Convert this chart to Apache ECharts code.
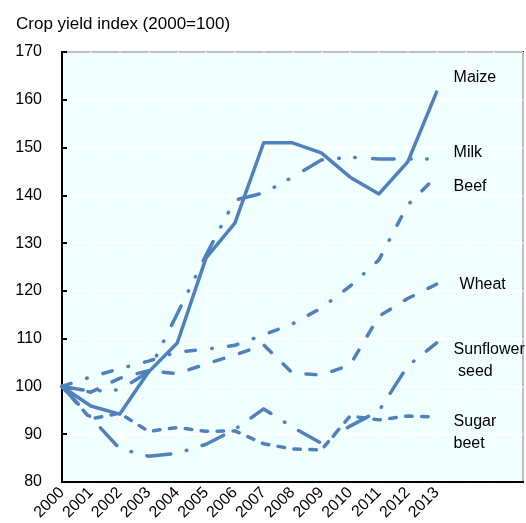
<!DOCTYPE html>
<html>
<head>
<meta charset="utf-8">
<script src="https://cdn.jsdelivr.net/npm/echarts@6/dist/echarts.min.js"></script>
<style>
  html, body { margin: 0; padding: 0; background: #fff; }
  #chart { width: 526px; height: 523px; }
</style>
</head>
<body>
<div id="chart"></div>
<script>
// 年份（右侧多留三格空白）
const years = ['2000', '2001', '2002', '2003', '2004', '2005', '2006', '2007',
  '2008', '2009', '2010', '2011', '2012', '2013', '2014', '2015', '2016'];
const lastLabelYear = 2013;

// 各作物指数 (2000=100)
const maize = [100, 95.9, 94.2, 103, 109.1, 126.9, 134.2, 151, 151, 148.9, 143.8, 140.3, 147, 161.6];
const milk = [100, 99, 99.3, 103, 115.2, 127.5, 139, 140.5, 143.8, 147.4, 148, 147.6, 147.6, 147.6];
const beef = [100, 102, 103.7, 105.3, 107.2, 107.8, 108.6, 110.8, 113.1, 116.4, 121, 126.5, 138, 144];
const wheat = [100, 98.8, 101.7, 103.3, 102.7, 104.7, 106.6, 108.7, 102.8, 102.4, 104.5, 114.7, 118.4, 121.4];
const sunflower = [100, 93.5, 87, 85.4, 86, 87.9, 91, 95.3, 91.5, 88.1, 91.7, 94.9, 104.3, 109.1];
const sugarBeet = [100, 93.2, 94.4, 90.6, 91.4, 90.6, 90.7, 88, 86.9, 86.7, 93.8, 93, 93.8, 93.6];

const yTicks = { min: 80, max: 170, step: 10 };

const blue = '#4f81bd';
const font = 'Arial, "Liberation Sans", sans-serif';

// 每条线：名称、数据、虚线样式、标签偏移
const lines = [
  { name: 'Maize', data: maize, dash: 'solid', offset: [9, -15] },
  { name: 'Milk', data: milk, dash: [21.5, 16.5, 0.5, 15.5, 0.5, 17.5], offset: [9, -6] },
  { name: 'Beef', data: beef, dash: [9.5, 16.5, 0.5, 16.5], offset: [9, 10] },
  { name: 'Wheat', data: wheat, dash: [10, 16.5], offset: [15, 0] },
  { name: 'Sunflower\n seed', data: sunflower, dash: [24, 16, 0.5, 16], offset: [9, 18] },
  { name: 'Sugar\nbeet', data: sugarBeet, dash: [6.5, 9.5], offset: [9, 16] },
];

const chart = echarts.init(document.getElementById('chart'), null, { renderer: 'canvas' });

chart.setOption({
  animation: false,
  backgroundColor: '#fff',
  textStyle: { fontFamily: font },
  title: {
    text: 'Crop yield index (2000=100)',
    left: 11,
    top: 11,
    textStyle: { fontFamily: font, fontSize: 17, fontWeight: 'normal', color: '#000' },
  },
  grid: {
    left: 62,
    top: 52,
    right: 3,
    bottom: 41,
    show: true,
    backgroundColor: '#f0ffff',
    borderColor: '#000',
    borderWidth: 2,
  },
  xAxis: {
    type: 'category',
    data: years,
    boundaryGap: false,
    axisLine: { lineStyle: { color: '#000', width: 2 } },
    axisTick: { show: false },
    axisLabel: {
      interval: 0,
      rotate: 45,
      margin: 8,
      fontSize: 16,
      color: '#000',
      fontFamily: font,
      formatter: (v) => (Number(v) <= lastLabelYear ? v : ''),
    },
    splitLine: { show: true, lineStyle: { color: '#fff', width: 1.5 } },
  },
  yAxis: {
    type: 'value',
    min: yTicks.min,
    max: yTicks.max,
    interval: yTicks.step,
    axisLine: { show: true, lineStyle: { color: '#000', width: 2 } },
    axisTick: { show: true, inside: true, length: 5, lineStyle: { color: '#000', width: 2 } },
    axisLabel: { fontSize: 16, color: '#000', margin: 20, fontFamily: font },
    splitLine: { show: true, lineStyle: { color: '#fff', width: 1.5 } },
  },
  series: lines.map((l) => ({
    type: 'line',
    name: l.name,
    data: l.data,
    symbol: 'none',
    silent: true,
    lineStyle: { color: blue, width: 3.5, type: l.dash, cap: 'round', join: 'round' },
    endLabel: {
      show: true,
      formatter: '{a}',
      offset: l.offset,
      align: 'left',
      verticalAlign: 'middle',
      fontSize: 16,
      lineHeight: 22,
      color: '#000',
      fontFamily: font,
    },
  })),
});
</script>
</body>
</html>
